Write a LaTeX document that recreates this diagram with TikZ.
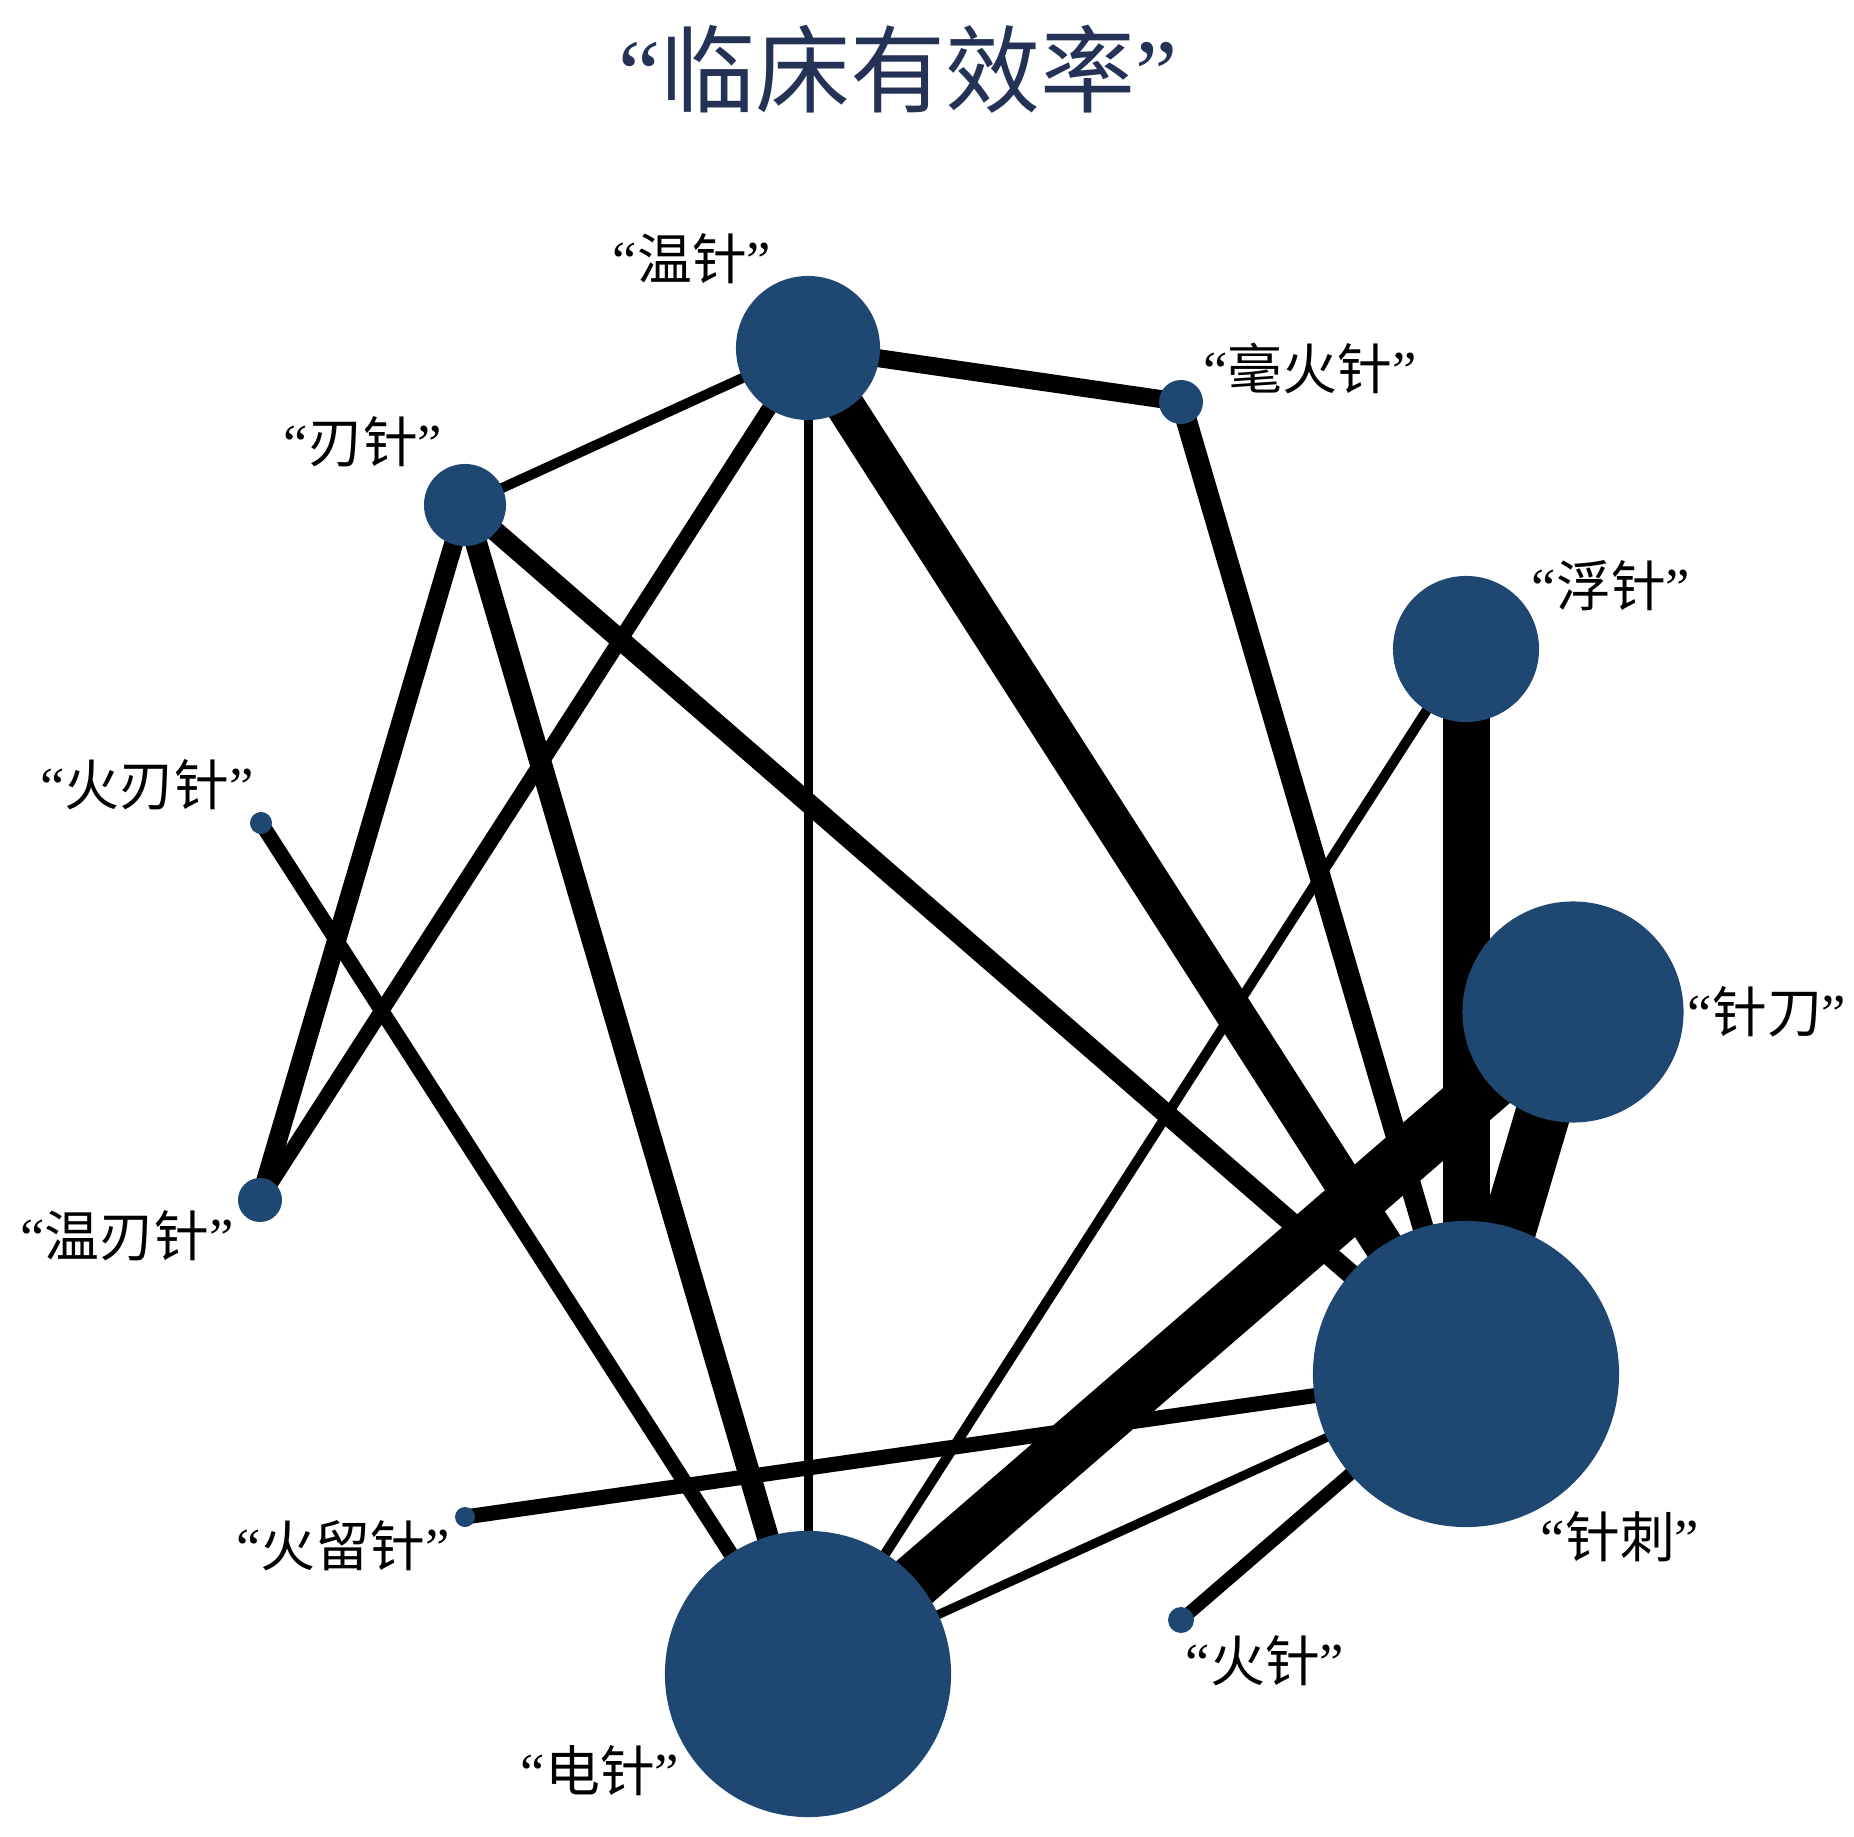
\documentclass[tikz,border=0pt]{standalone}
\usepackage{fontspec}
\setmainfont{Liberation Serif}
\newfontfamily\cjk{Noto Sans CJK SC}
\usetikzlibrary{backgrounds}
\definecolor{nodeblue}{RGB}{30,72,114}
\definecolor{titleblue}{RGB}{36,50,86}

\begin{document}
\begin{tikzpicture}[
  x=0.01cm, y=-0.01cm,
  trt/.style = {circle, fill=nodeblue, inner sep=0pt, minimum size={#1*0.1mm}},
  lab/.style = {inner sep=0pt, font=\fontsize{15.6}{18}\selectfont},
  lnk/.style = {draw=black, line width={#1*0.1mm}},
]
  \useasboundingbox (0,0) rectangle (1854,1837);

  % title
  \node[inner sep=0pt, text=titleblue, font=\fontsize{27}{31}\selectfont] (title) at (898,69) {“{\cjk 临床有效率}”};

  % treatments, size by sample
  \node[trt=144] (wz)  at (808,348)   {};
  \node[trt=44]  (hhz) at (1181,402)  {};
  \node[trt=82]  (rz)  at (465,505)   {};
  \node[trt=146] (fz)  at (1466,649)  {};
  \node[trt=22]  (hrz) at (261,823)   {};
  \node[trt=221] (zd)  at (1573,1012) {};
  \node[trt=44]  (wrz) at (260,1200)  {};
  \node[trt=306] (zc)  at (1466,1374) {};
  \node[trt=20]  (hlz) at (465,1517)  {};
  \node[trt=26]  (hz)  at (1181,1620) {};
  \node[trt=286] (dz)  at (808,1674)  {};

  % labels
  \node[lab] (wz-l)  at (692,259)   {“{\cjk 温针}”};
  \node[lab] (hhz-l) at (1310,368)  {“{\cjk 毫火针}”};
  \node[lab] (rz-l)  at (363,442)   {“{\cjk 刃针}”};
  \node[lab] (fz-l)  at (1611,586)  {“{\cjk 浮针}”};
  \node[lab] (hrz-l) at (147,785)   {“{\cjk 火刃针}”};
  \node[lab] (zd-l)  at (1767,1012) {“{\cjk 针刀}”};
  \node[lab] (wrz-l) at (127,1236)  {“{\cjk 温刃针}”};
  \node[lab] (zc-l)  at (1620,1537) {“{\cjk 针刺}”};
  \node[lab] (hlz-l) at (343,1546)  {“{\cjk 火留针}”};
  \node[lab] (hz-l)  at (1265,1661) {“{\cjk 火针}”};
  \node[lab] (dz-l)  at (600,1771)  {“{\cjk 电针}”};

  % comparisons, width by number of studies
  \begin{scope}[on background layer]
    \draw[lnk=18] (wz.center)  -- (hhz.center);
    \draw[lnk=10] (wz.center)  -- (rz.center);
    \draw[lnk=15] (wz.center)  -- (wrz.center);
    \draw[lnk=9]  (wz.center)  -- (dz.center);
    \draw[lnk=39] (wz.center)  -- (zc.center);
    \draw[lnk=19] (rz.center)  -- (wrz.center);
    \draw[lnk=22] (rz.center)  -- (dz.center);
    \draw[lnk=20] (rz.center)  -- (zc.center);
    \draw[lnk=21] (hhz.center) -- (zc.center);
    \draw[lnk=15] (hrz.center) -- (dz.center);
    \draw[lnk=10] (fz.center)  -- (dz.center);
    \draw[lnk=47] (fz.center)  -- (zc.center);
    \draw[lnk=55] (zd.center)  -- (zc.center);
    \draw[lnk=55] (zd.center)  -- (dz.center);
    \draw[lnk=9]  (zc.center)  -- (dz.center);
    \draw[lnk=15] (hlz.center) -- (zc.center);
    \draw[lnk=13] (hz.center)  -- (zc.center);
  \end{scope}
\end{tikzpicture}
\end{document}
